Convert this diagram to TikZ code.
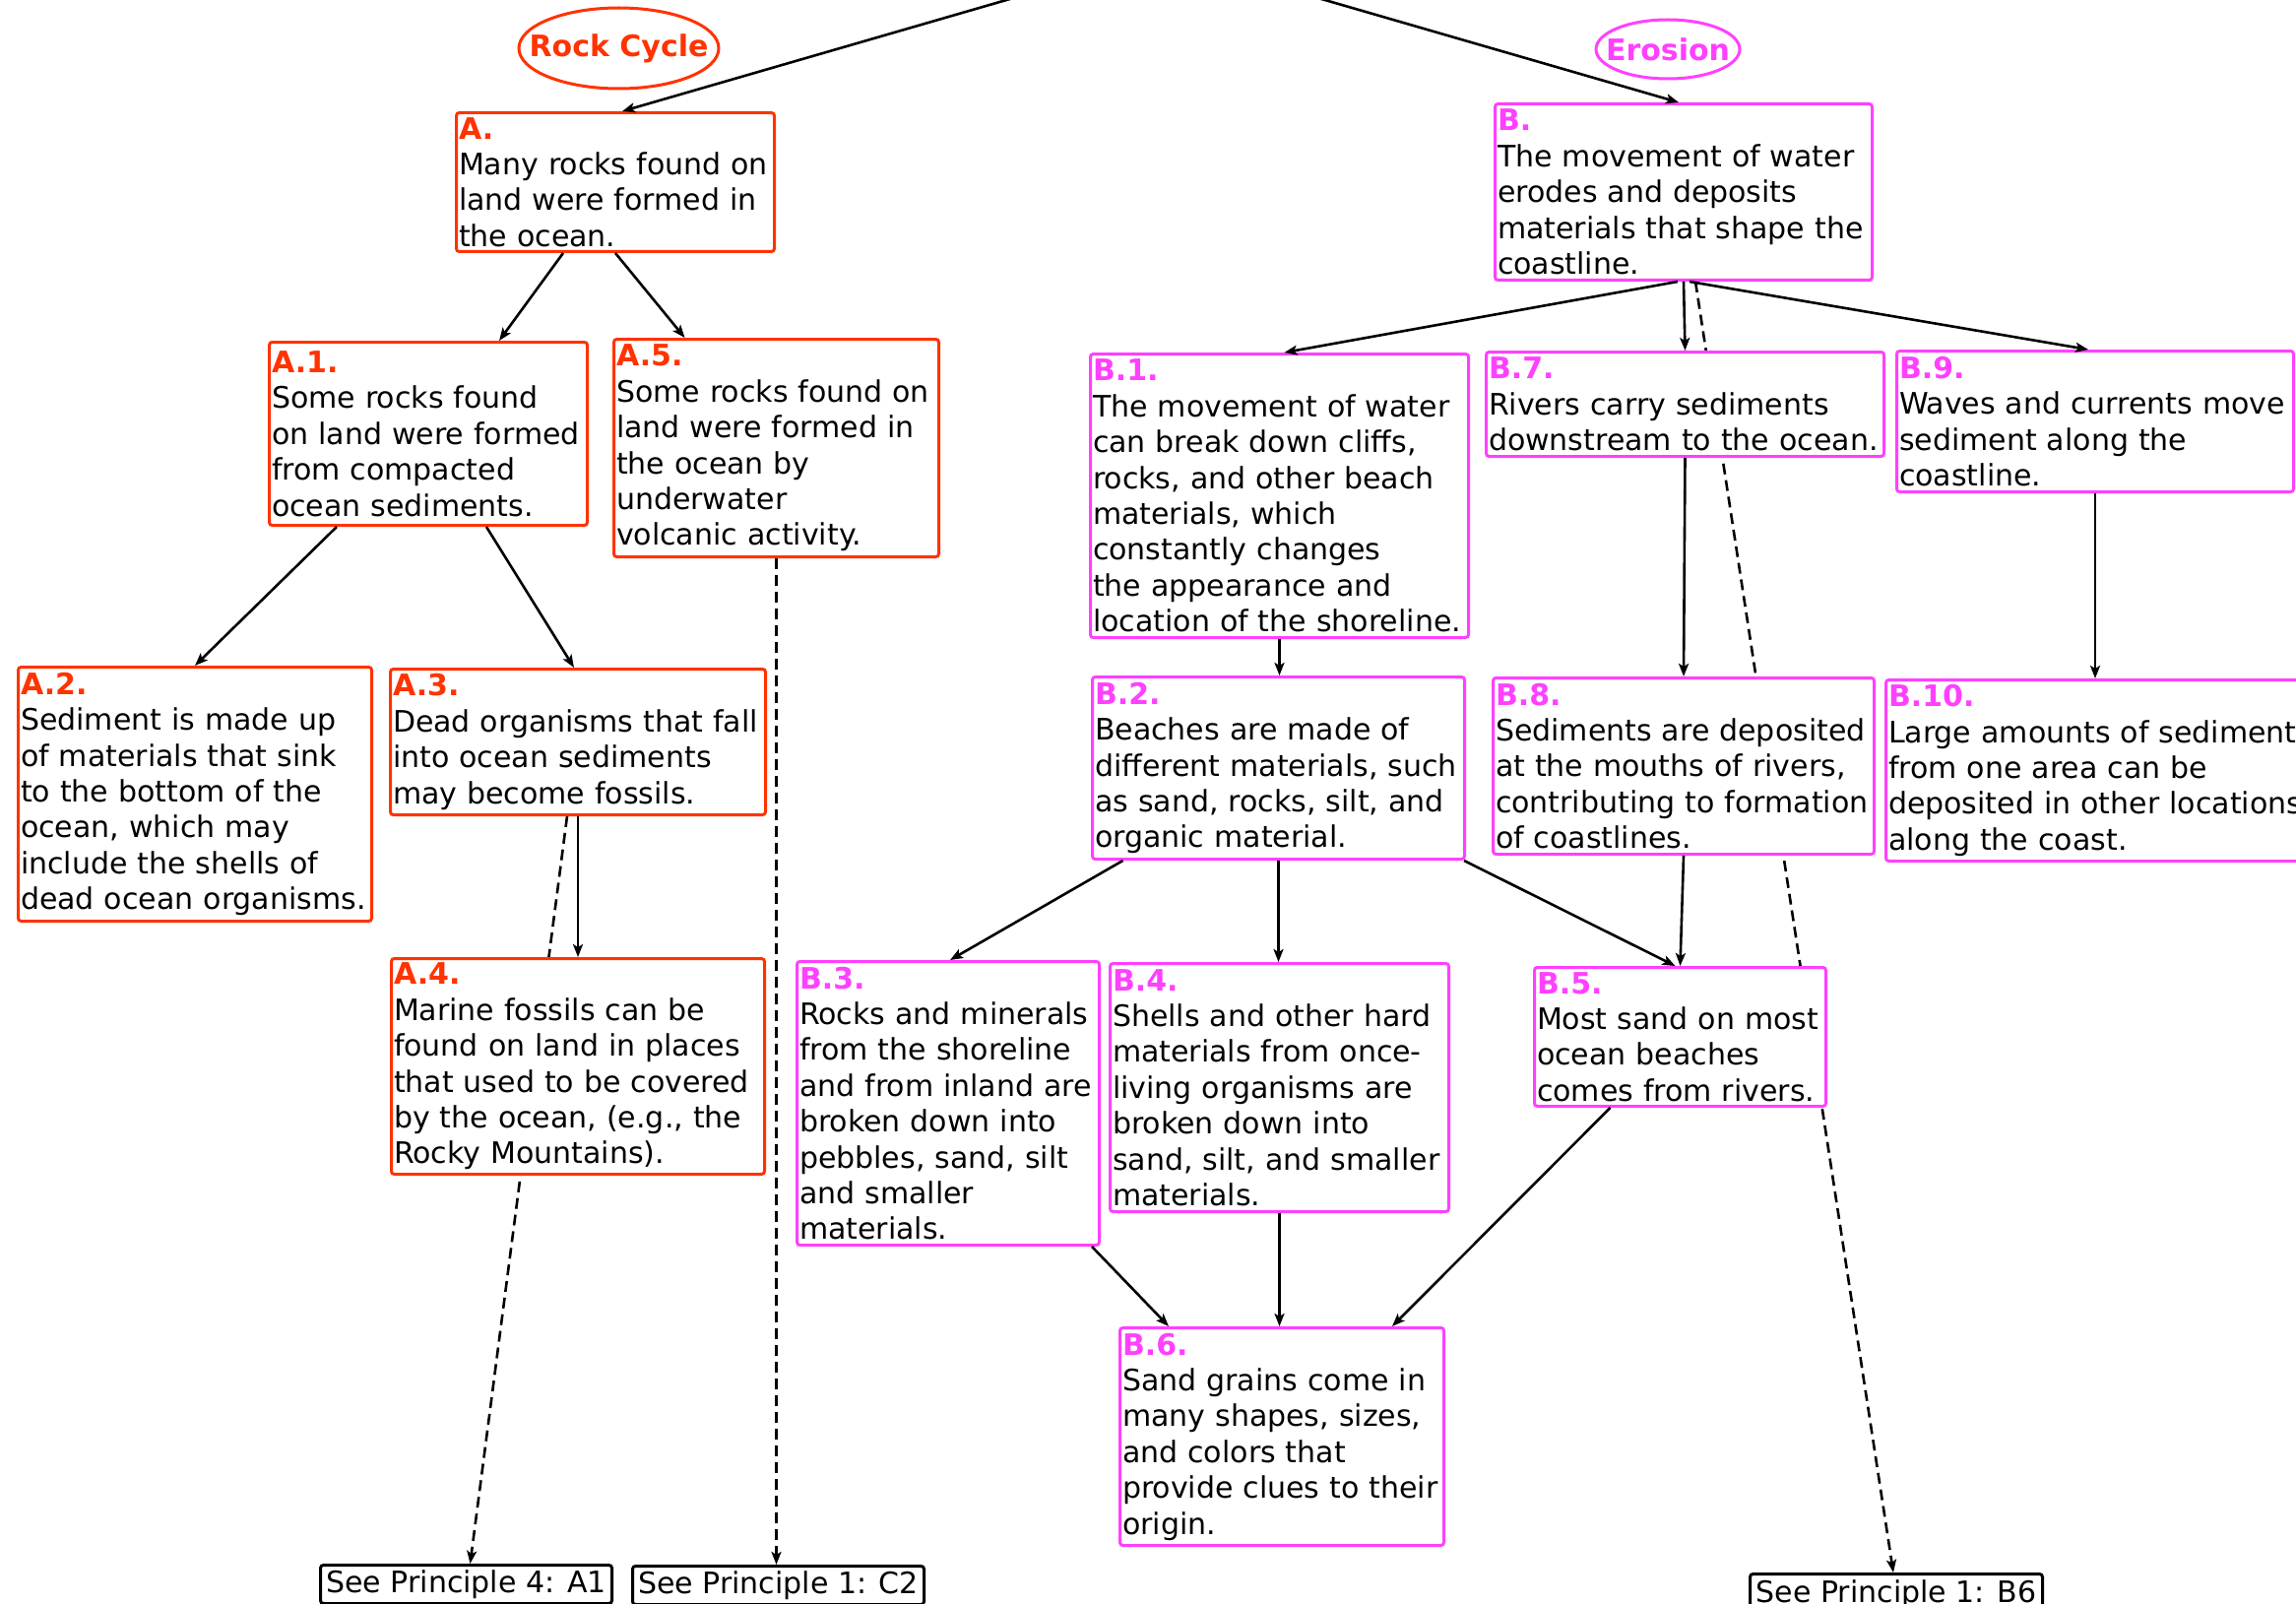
\documentclass[tikz,border=0pt]{standalone}
\usepackage{fontspec}
\setmainfont{DejaVu Sans}
\usetikzlibrary{shapes.geometric,arrows.meta,calc,backgrounds}
\definecolor{rc}{RGB}{255,51,0}
\definecolor{mg}{RGB}{255,64,255}
\newcommand\rlab[1]{\textbf{\color{rc}#1}}
\newcommand\mlab[1]{\textbf{\color{mg}#1}}
\newcommand\bline[1]{\mbox{#1}}
\begin{document}
\begin{tikzpicture}[x=1pt,y=-1pt,
  every node/.style={font=\fontsize{30}{36.4}\selectfont},
  card/.style n args={3}{draw=#1, line width=3pt, rounded corners=3pt, fill=white,
    anchor=north west, inner xsep=2.5pt, inner ysep=1pt, align=left,
    text width=#2, minimum height=#3},
  seebox/.style={draw=black, line width=3pt, rounded corners=3pt, fill=white,
    anchor=north west, inner sep=0pt, align=center, minimum width=#1, minimum height=39pt},
  oval/.style={ellipse, draw=#1, line width=3pt, inner sep=0pt},
  ovaltext/.style={text=#1, inner sep=0pt, font=\fontsize{30}{36}\selectfont\bfseries},
  arr/.style={-{Stealth[length=13pt,width=10pt,inset=3pt]}, line width=2.6pt},
  dsh/.style={arr, dash pattern=on 11pt off 6pt}]
\useasboundingbox (0,0) rectangle (2332,1629);
\clip (0,0) rectangle (2332,1629);

% ovals
\node[oval=rc, minimum width=203pt, minimum height=82pt,
  label={[ovaltext=rc]center:Rock Cycle}] (rock) at (628.5,49) {};
\node[oval=mg, minimum width=146pt, minimum height=60pt,
  label={[ovaltext=mg]center:Erosion}] (ero) at (1694,50) {};

% free ends above the picture
\coordinate (topL) at (1056.8,-10);
\coordinate (topR) at (1311.1,-10);

% Rock cycle boxes
\node[card={rc}{318pt}{141pt}] (A) at (462,113) {\rlab{A.}\\\bline{Many rocks found on}\\\bline{land were formed in}\\\bline{the ocean.}};
\node[card={rc}{318pt}{186pt}] (A1) at (272,346) {\rlab{A.1.}\\\bline{Some rocks found}\\\bline{on land were formed}\\\bline{from compacted}\\\bline{ocean sediments.}};
\node[card={rc}{325pt}{221pt}] (A5) at (622,343) {\rlab{A.5.}\\\bline{Some rocks found on}\\\bline{land were formed in}\\\bline{the ocean by}\\\bline{underwater}\\\bline{volcanic activity.}};
\node[card={rc}{354pt}{258pt}] (A2) at (17,676) {\rlab{A.2.}\\\bline{Sediment is made up}\\\bline{of materials that sink}\\\bline{to the bottom of the}\\\bline{ocean, which may}\\\bline{include the shells of}\\\bline{dead ocean organisms.}};
\node[card={rc}{376pt}{148pt}] (A3) at (395,678) {\rlab{A.3.}\\\bline{Dead organisms that fall}\\\bline{into ocean sediments}\\\bline{may become fossils.}};

% See principle boxes
\node[seebox=296pt] (SP4) at (324,1588) {See Principle 4: A1};
\node[seebox=296pt] (SP1C) at (641,1589) {See Principle 1: C2};
\node[seebox=297pt, minimum height=42pt] (SP1B) at (1776,1597) {See Principle 1: B6};

% Erosion boxes
\node[card={mg}{378pt}{179pt}] (B) at (1517,104) {\mlab{B.}\\\bline{The movement of water}\\\bline{erodes and deposits}\\\bline{materials that shape the}\\\bline{coastline.}};

% dashed connectors passing behind boxes
\begin{pgfonlayer}{background}
\draw[dsh] ($(A3.south)+(-11,0)$) -- ($(SP4.north)+(4,0)$);
\draw[dsh] (A5.south) -- (A5.south |- SP1C.north);
\draw[dsh] ($(B.south)+(12,0)$) -- ($(SP1B.north)+(-3,0)$);
\end{pgfonlayer}

\node[card={rc}{374pt}{219pt}] (A4) at (396,972) {\rlab{A.4.}\\\bline{Marine fossils can be}\\\bline{found on land in places}\\\bline{that used to be covered}\\\bline{by the ocean, (e.g., the}\\\bline{Rocky Mountains).}};

\node[card={mg}{379pt}{288pt}] (B1) at (1106,358) {\mlab{B.1.}\\\bline{The movement of water}\\\bline{can break down cliffs,}\\\bline{rocks, and other beach}\\\bline{materials, which}\\\bline{constantly changes}\\\bline{the appearance and}\\\bline{location of the shoreline.}};
\node[card={mg}{399pt}{106pt}] (B7) at (1508,356) {\mlab{B.7.}\\\bline{Rivers carry sediments}\\\bline{downstream to the ocean.}};
\node[card={mg}{398pt}{143pt}] (B9) at (1925,355) {\mlab{B.9.}\\\bline{Waves and currents move}\\\bline{sediment along the}\\\bline{coastline.}};
\node[card={mg}{373pt}{185pt}] (B2) at (1108,686) {\mlab{B.2.}\\\bline{Beaches are made of}\\\bline{different materials, such}\\\bline{as sand, rocks, silt, and}\\\bline{organic material.}};
\node[card={mg}{382pt}{179pt}] (B8) at (1515,687) {\mlab{B.8.}\\\bline{Sediments are deposited}\\\bline{at the mouths of rivers,}\\\bline{contributing to formation}\\\bline{of coastlines.}};
\node[card={mg}{426pt}{184pt}] (B10) at (1914,689) {\mlab{B.10.}\\\bline{Large amounts of sediment}\\\bline{from one area can be}\\\bline{deposited in other locations}\\\bline{along the coast.}};
\node[card={mg}{302pt}{288pt}] (B3) at (808,975) {\mlab{B.3.}\\\bline{Rocks and minerals}\\\bline{from the shoreline}\\\bline{and from inland are}\\\bline{broken down into}\\\bline{pebbles, sand, silt}\\\bline{and smaller}\\\bline{materials.}};
\node[card={mg}{339pt}{252pt}] (B4) at (1126,977) {\mlab{B.4.}\\\bline{Shells and other hard}\\\bline{materials from once-}\\\bline{living organisms are}\\\bline{broken down into}\\\bline{sand, silt, and smaller}\\\bline{materials.}};
\node[card={mg}{291pt}{141pt}] (B5) at (1557,981) {\mlab{B.5.}\\\bline{Most sand on most}\\\bline{ocean beaches}\\\bline{comes from rivers.}};
\node[card={mg}{324pt}{221pt}] (B6) at (1136,1347) {\mlab{B.6.}\\\bline{Sand grains come in}\\\bline{many shapes, sizes,}\\\bline{and colors that}\\\bline{provide clues to their}\\\bline{origin.}};

% solid connectors
\draw[arr] (topL) -- ($(A.north)+(7,0)$);
\draw[arr] (topR) -- ($(B.north)+(-5,0)$);
\draw[arr] ($(A.south)+(-53,0)$) -- ($(A1.north)+(72,0)$);
\draw[arr] (A.south) -- ($(A5.north)+(-93,0)$);
\draw[arr] ($(A1.south)+(-93,0)$) -- (A2.north);
\draw[arr] ($(A1.south)+(59,0)$) -- ($(A3.north)+(-4,0)$);
\draw[arr] (A3.south) -- (A4.north);

\draw[arr] ($(B.south)+(-6,0)$) -- ($(B1.north)+(5,0)$);
\draw[arr] (B.south) -- (B7.north);
\draw[arr] ($(B.south)+(6,0)$) -- ($(B9.north)+(-7,0)$);
\draw[arr] (B1.south) -- (B1.south |- B2.north);
\draw[arr] (B7.south) -- (B8.north);
\draw[arr] (B9.south) -- (B9.south |- B10.north);
\draw[arr] ($(B2.south)+(-158,0)$) -- ($(B3.north)+(2,0)$);
\draw[arr] (B2.south) -- (B2.south |- B4.north);
\draw[arr] ($(B2.south east)+(-2,0)$) -- ($(B5.north)+(-5,0)$);
\draw[arr] (B8.south) -- (B5.north);
\draw[arr] ($(B3.south east)+(-9,0)$) -- ($(B6.north)+(-115,0)$);
\draw[arr] (B4.south) -- (B4.south |- B6.north);
\draw[arr] ($(B5.south)+(-71,0)$) -- ($(B6.north)+(112,0)$);
\end{tikzpicture}
\end{document}
